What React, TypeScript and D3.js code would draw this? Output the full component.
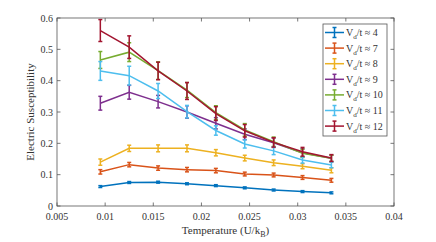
import React from "react";
import * as d3 from "d3";

const temps = [0.0095, 0.0125, 0.0155, 0.0185, 0.0215, 0.0245, 0.0275, 0.0305, 0.0335];
const labels = ["4", "7", "8", "9", "10", "11", "12"];
const colors = ["#0072BD", "#D95319", "#EDB120", "#7E2F8E", "#77AC30", "#4DBEEE", "#A2142F"];
const v4 = [0.062, 0.075, 0.076, 0.071, 0.065, 0.058, 0.051, 0.046, 0.042];
const e4 = [0.003, 0.003, 0.003, 0.003, 0.003, 0.003, 0.003, 0.003, 0.003];
const v7 = [0.109, 0.132, 0.121, 0.116, 0.113, 0.102, 0.099, 0.091, 0.082];
const e7 = [0.007, 0.007, 0.007, 0.007, 0.007, 0.006, 0.006, 0.006, 0.006];
const v8 = [0.140, 0.184, 0.184, 0.184, 0.170, 0.153, 0.138, 0.127, 0.114];
const e8 = [0.01, 0.01, 0.011, 0.011, 0.01, 0.009, 0.009, 0.008, 0.008];
const v9 = [0.328, 0.363, 0.333, 0.300, 0.264, 0.229, 0.202, 0.170, 0.152];
const e9 = [0.022, 0.022, 0.02, 0.02, 0.018, 0.017, 0.015, 0.013, 0.01];
const v10 = [0.466, 0.491, 0.432, 0.370, 0.298, 0.243, 0.205, 0.168, 0.152];
const e10 = [0.027, 0.03, 0.028, 0.024, 0.022, 0.02, 0.015, 0.013, 0.01];
const v11 = [0.431, 0.416, 0.367, 0.301, 0.241, 0.198, 0.176, 0.147, 0.131];
const e11 = [0.03, 0.03, 0.024, 0.02, 0.015, 0.013, 0.012, 0.01, 0.009];
const v12 = [0.560, 0.507, 0.431, 0.367, 0.295, 0.240, 0.203, 0.173, 0.153];
const e12 = [0.035, 0.036, 0.028, 0.027, 0.022, 0.02, 0.015, 0.014, 0.011];
const xTicks = [0.005, 0.01, 0.015, 0.02, 0.025, 0.03, 0.035, 0.04];
const yTicks = [0, 0.1, 0.2, 0.3, 0.4, 0.5, 0.6];

const seriesVals = [v4, v7, v8, v9, v10, v11, v12];
const seriesErr = [e4, e7, e8, e9, e10, e11, e12];

const W = 436, H = 242;
const L = 57, R = 394, T = 18, B = 206;
const font = "Liberation Serif, DejaVu Serif, serif";
const axisColor = "#555";
const txt = "#333";

export default function App() {
  const x = d3.scaleLinear().domain([0.005, 0.04]).range([L, R]);
  const y = d3.scaleLinear().domain([0, 0.6]).range([B, T]);
  const line = d3.line<number>().x((_, i) => x(temps[i])).y((d) => y(d));
  const cap = 2;
  const legX = 323, legY = 24, legW = 64, legH = 112, legStep = 15.6;
  const ts = { fontFamily: font };
  return (
    <svg width={W} height={H} style={{ position: "absolute", left: 0, top: 0, background: "#fff", fontFamily: font }}>
      <rect x={L} y={T} width={R - L} height={B - T} fill="#fff" />
      {seriesVals.map((vals, s) => (
        <g key={s} stroke={colors[s]} fill="none" strokeWidth={1.5}>
          <path d={line(vals) || ""} />
          {vals.map((v, i) => {
            const cx = x(temps[i]);
            const y1 = y(v + seriesErr[s][i]);
            const y2 = y(v - seriesErr[s][i]);
            return (
              <g key={i}>
                <line x1={cx} x2={cx} y1={y1} y2={y2} />
                <line x1={cx - cap} x2={cx + cap} y1={y1} y2={y1} />
                <line x1={cx - cap} x2={cx + cap} y1={y2} y2={y2} />
              </g>
            );
          })}
        </g>
      ))}
      <rect x={L} y={T} width={R - L} height={B - T} fill="none" stroke={axisColor} strokeWidth={0.8} />
      {xTicks.map((t, i) => (
        <g key={"x" + i}>
          <line x1={x(t)} x2={x(t)} y1={B} y2={B - 3.5} stroke={axisColor} strokeWidth={0.8} />
          <line x1={x(t)} x2={x(t)} y1={T} y2={T + 3.5} stroke={axisColor} strokeWidth={0.8} />
          <text x={x(t)} y={B + 14} textAnchor="middle" style={ts} fontSize={10} fill={txt}>
            {String(t)}
          </text>
        </g>
      ))}
      {yTicks.map((t, i) => (
        <g key={"y" + i}>
          <line x1={L} x2={L + 3.5} y1={y(t)} y2={y(t)} stroke={axisColor} strokeWidth={0.8} />
          <line x1={R} x2={R - 3.5} y1={y(t)} y2={y(t)} stroke={axisColor} strokeWidth={0.8} />
          <text x={L - 4} y={y(t) + 3.5} textAnchor="end" style={ts} fontSize={10} fill={txt}>
            {String(t)}
          </text>
        </g>
      ))}
      <text x={(L + R) / 2} y={B + 28} textAnchor="middle" style={ts} fontSize={11} fill={txt}>
        Temperature (U/k<tspan fontSize={8} dy={3}>B</tspan><tspan dy={-3}>)</tspan>
      </text>
      <text
        transform={`translate(${34},${(T + B) / 2}) rotate(-90)`}
        textAnchor="middle"
        style={ts}
        fontSize={11}
        fill={txt}
      >
        Electric Susceptibility
      </text>
      <rect x={legX} y={legY} width={legW} height={legH} fill="#fff" stroke={axisColor} strokeWidth={0.8} />
      {labels.map((lab, i) => {
        const cy = legY + 8.5 + i * legStep;
        const lx1 = legX + 2, lx2 = legX + 21, mx = (lx1 + lx2) / 2;
        return (
          <g key={"l" + i}>
            <g stroke={colors[i]} strokeWidth={1.5}>
              <line x1={lx1} x2={lx2} y1={cy} y2={cy} />
              <line x1={mx} x2={mx} y1={cy - 5} y2={cy + 5} />
              <line x1={mx - cap} x2={mx + cap} y1={cy - 5} y2={cy - 5} />
              <line x1={mx - cap} x2={mx + cap} y1={cy + 5} y2={cy + 5} />
            </g>
            <text x={legX + 23} y={cy + 3.5} style={ts} fontSize={10} fill={txt}>
              V<tspan fontSize={7} dy={3}>d</tspan>
              <tspan dy={-3}>/t ≈ {lab}</tspan>
            </text>
          </g>
        );
      })}
    </svg>
  );
}
